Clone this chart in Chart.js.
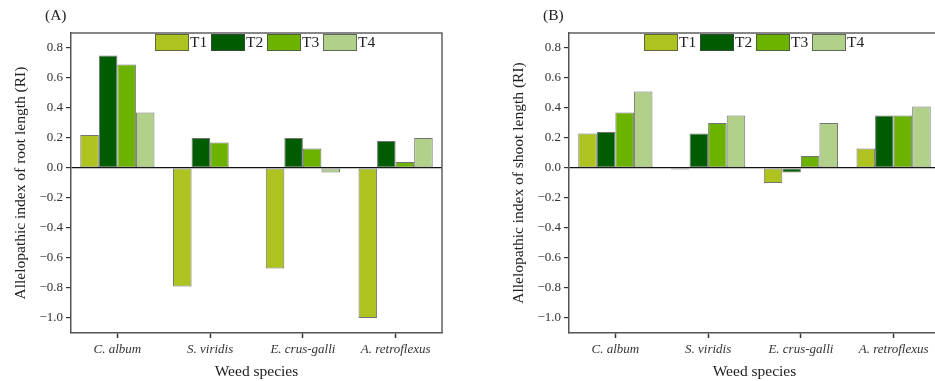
<!DOCTYPE html>
<html>
<head>
<meta charset="utf-8">
<script src="https://cdn.jsdelivr.net/npm/chart.js@4/dist/chart.umd.min.js"></script>
<style>
  html, body { margin: 0; padding: 0; background: #fff; overflow: hidden; width: 935px; height: 381px; }
  .panel { position: absolute; top: 0; width: 470px; height: 381px; }
  #panelA { left: 0; }
  #panelB { left: 498px; }
</style>
</head>
<body>
<div class="panel" id="panelA"><canvas id="chartA" width="470" height="381"></canvas></div>
<div class="panel" id="panelB"><canvas id="chartB" width="470" height="381"></canvas></div>
<script>
// Weed species (categories)
const species = ['C. album', 'S. viridis', 'E. crus-galli', 'A. retroflexus'];
// Treatment names
const treatments = ['T1', 'T2', 'T3', 'T4'];

// Allelopathic index of root length (RI), per treatment
const rootT1 = [0.22, -0.79, -0.67, -1.00];
const rootT2 = [0.75, 0.20, 0.20, 0.18];
const rootT3 = [0.69, 0.17, 0.13, 0.04];
const rootT4 = [0.37, 0.00, -0.03, 0.20];

// Allelopathic index of shoot length (RI), per treatment
const shootT1 = [0.23, -0.01, -0.10, 0.13];
const shootT2 = [0.24, 0.23, -0.03, 0.35];
const shootT3 = [0.37, 0.30, 0.08, 0.35];
const shootT4 = [0.51, 0.35, 0.30, 0.41];

// Y axis tick labels
const yTicks = [-1.0, -0.8, -0.6, -0.4, -0.2, 0.0, 0.2, 0.4, 0.6, 0.8];

const colors = ['#aec320', '#005c00', '#6cb300', '#b1d089'];
const barBorder = 'rgba(70,70,70,0.75)';
const serif = '"Liberation Serif", "Times New Roman", serif';

// Frame around the plotting area plus the panel tag and an in-plot legend
const decorPlugin = {
  id: 'decor',
  afterDraw(chart, args, opts) {
    const ctx = chart.ctx;
    const a = chart.chartArea;
    ctx.save();
    ctx.strokeStyle = '#606060';
    ctx.lineWidth = 1.5;
    ctx.beginPath();
    ctx.moveTo(a.left, a.top);
    ctx.lineTo(a.right, a.top);
    ctx.lineTo(a.right, a.bottom);
    ctx.stroke();

    // panel tag
    ctx.fillStyle = '#222';
    ctx.font = '15.5px ' + serif;
    ctx.textAlign = 'left';
    ctx.textBaseline = 'middle';
    ctx.fillText(opts.tag, 45, 16);

    // legend
    let x = a.left + opts.legendOffset;
    const y = a.top + 1;
    chart.data.datasets.forEach((ds) => {
      ctx.fillStyle = ds.backgroundColor;
      ctx.fillRect(x, y, 34, 17);
      ctx.strokeStyle = barBorder;
      ctx.lineWidth = 1;
      ctx.strokeRect(x + 0.5, y + 0.5, 33, 16);
      ctx.fillStyle = '#222';
      ctx.font = '15.5px ' + serif;
      ctx.textBaseline = 'middle';
      ctx.fillText(ds.label, x + 35, y + 9);
      x += 56;
    });
    ctx.restore();
  }
};

function makeChart(canvasId, series, yTitle, tag, legendOffset) {
  return new Chart(document.getElementById(canvasId), {
    type: 'bar',
    data: {
      labels: species,
      datasets: treatments.map((t, i) => ({
        label: t,
        data: series[i],
        backgroundColor: colors[i],
        borderColor: barBorder,
        borderWidth: 1,
        borderSkipped: false,
        categoryPercentage: 0.8,
        barPercentage: 1.0
      }))
    },
    options: {
      responsive: false,
      animation: false,
      layout: { padding: { top: 33, right: 28, left: 0, bottom: 0 } },
      plugins: {
        legend: { display: false },
        tooltip: { enabled: false },
        decor: { tag: tag, legendOffset: legendOffset }
      },
      scales: {
        x: {
          offset: true,
          grid: {
            offset: false,
            drawOnChartArea: false,
            tickColor: '#333',
            tickLength: 5,
            tickWidth: 1.5
          },
          border: { color: '#555', width: 1.5 },
          ticks: {
            padding: 4,
            color: '#333',
            maxRotation: 0,
            font: { family: serif, size: 13, style: 'italic' }
          },
          title: {
            display: true,
            text: 'Weed species',
            color: '#222',
            padding: { top: 0, bottom: 0 },
            font: { family: serif, size: 15.5, lineHeight: 1.2 }
          },
          afterFit(scale) { scale.height = 48; }
        },
        y: {
          min: -1.1,
          max: 0.9,
          afterBuildTicks(scale) { scale.ticks = yTicks.map(v => ({ value: v })); },
          grid: {
            color: (c) => (c.tick && Math.abs(c.tick.value) < 1e-9) ? '#111' : 'rgba(0,0,0,0)',
            lineWidth: 1.2,
            tickColor: '#333',
            tickLength: 5,
            tickWidth: 1.2
          },
          border: { color: '#555', width: 1.5 },
          ticks: {
            padding: 3,
            color: '#333',
            font: { family: serif, size: 13 },
            callback: (v) => (v < -1e-9 ? '\u2212' : '') + Math.abs(v).toFixed(1)
          },
          title: {
            display: true,
            text: yTitle,
            color: '#222',
            padding: { top: 12, bottom: 0 },
            font: { family: serif, size: 15.5, lineHeight: 1.2 }
          },
          afterFit(scale) { scale.width = 71; }
        }
      }
    },
    plugins: [decorPlugin]
  });
}

makeChart('chartA', [rootT1, rootT2, rootT3, rootT4],
  'Allelopathic index of root length (RI)', '(A)', 84);
makeChart('chartB', [shootT1, shootT2, shootT3, shootT4],
  'Allelopathic index of shoot length (RI)', '(B)', 75);
</script>
</body>
</html>
